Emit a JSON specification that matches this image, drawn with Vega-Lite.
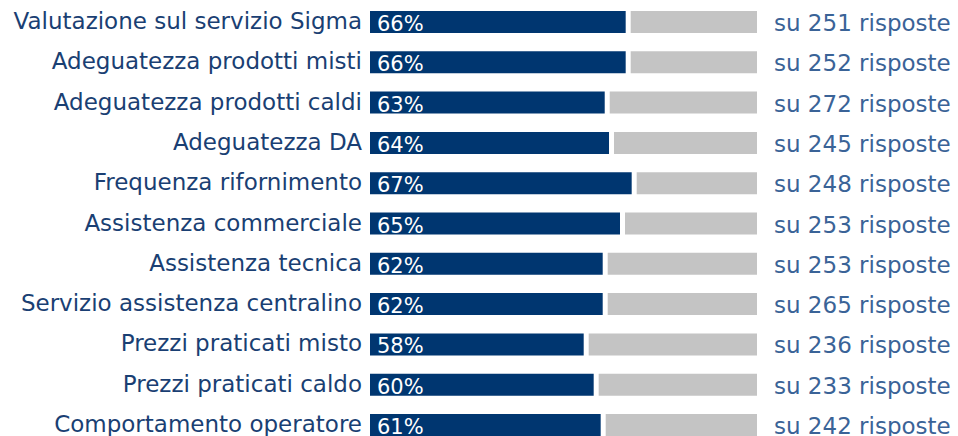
{
  "$schema": "https://vega.github.io/schema/vega-lite/v6.json",
  "width": 387,
  "height": 425,
  "autosize": {"type": "none"},
  "padding": {"top": 11, "left": 370, "right": 201, "bottom": 0},
  "background": "white",
  "config": {"view": {"stroke": null}, "font": "DejaVu Sans"},
  "data": {
    "values": [
      {"voce": "Valutazione sul servizio Sigma", "barra": 66.07, "perc": "66%", "testo": "su 251 risposte"},
      {"voce": "Adeguatezza prodotti misti", "barra": 66.07, "perc": "66%", "testo": "su 252 risposte"},
      {"voce": "Adeguatezza prodotti caldi", "barra": 60.65, "perc": "63%", "testo": "su 272 risposte"},
      {"voce": "Adeguatezza DA", "barra": 61.76, "perc": "64%", "testo": "su 245 risposte"},
      {"voce": "Frequenza rifornimento", "barra": 67.62, "perc": "67%", "testo": "su 248 risposte"},
      {"voce": "Assistenza commerciale", "barra": 64.6, "perc": "65%", "testo": "su 253 risposte"},
      {"voce": "Assistenza tecnica", "barra": 60.13, "perc": "62%", "testo": "su 253 risposte"},
      {"voce": "Servizio assistenza centralino", "barra": 60.13, "perc": "62%", "testo": "su 265 risposte"},
      {"voce": "Prezzi praticati misto", "barra": 55.22, "perc": "58%", "testo": "su 236 risposte"},
      {"voce": "Prezzi praticati caldo", "barra": 57.8, "perc": "60%", "testo": "su 233 risposte"},
      {"voce": "Comportamento operatore", "barra": 59.61, "perc": "61%", "testo": "su 242 risposte"}
    ]
  },
  "encoding": {
    "y": {
      "field": "voce",
      "type": "nominal",
      "sort": null,
      "axis": null,
      "scale": {"paddingInner": 0.454, "paddingOuter": 0}
    }
  },
  "resolve": {"scale": {"x": "shared"}},
  "layer": [
    {
      "mark": {"type": "bar", "color": "#c4c4c4", "xOffset": 5},
      "encoding": {
        "x": {"field": "barra", "type": "quantitative", "scale": {"domain": [0, 100], "nice": false}, "axis": null},
        "x2": {"datum": 100}
      }
    },
    {
      "mark": {"type": "bar", "color": "#003670"},
      "encoding": {
        "x": {"field": "barra", "type": "quantitative"}
      }
    },
    {
      "mark": {"type": "text", "align": "left", "baseline": "alphabetic", "dx": 7, "dy": 9, "fontSize": 21, "color": "white"},
      "encoding": {
        "x": {"datum": 0},
        "text": {"field": "perc"}
      }
    },
    {
      "mark": {"type": "text", "align": "right", "baseline": "alphabetic", "dx": -8, "dy": 7, "fontSize": 23, "color": "#1a3f73"},
      "encoding": {
        "x": {"datum": 0},
        "text": {"field": "voce"}
      }
    },
    {
      "mark": {"type": "text", "align": "left", "baseline": "alphabetic", "dx": 17, "dy": 9, "fontSize": 23, "color": "#3a6397"},
      "encoding": {
        "x": {"datum": 100},
        "text": {"field": "testo"}
      }
    }
  ]
}
